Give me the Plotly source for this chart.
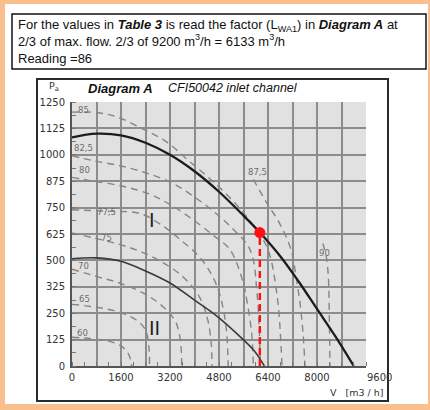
import plotly.graph_objects as go

# ---------------- data ----------------
flow_tick_labels = ["0", "1600", "3200", "4800", "6400", "8000", "9600"]
flow_grid_step = 800
pressure_ticks = [0, 125, 250, 375, 500, 625, 750, 875, 1000, 1125, 1250]
pressure_tick_labels = ["0", "125", "250", "325", "500", "625", "750", "875", "1000", "1125", "1250"]

# solid fan curves
curve_I_flow = [0, 800, 1600, 2400, 3200, 4000, 4800, 5600, 6133, 6800, 7400, 8000, 8600, 9200]
curve_I_pa = [1082, 1100, 1092, 1057, 1000, 922, 825, 712, 632, 520, 400, 270, 140, 0]
curve_II_flow = [0, 800, 1600, 2400, 3200, 4000, 4700, 5540, 5975, 6280]
curve_II_pa = [508, 512, 496, 450, 393, 312, 240, 132, 68, 0]

# dashed iso-sound lines (LWA, dB)
iso60_flow = [0, 600, 1200, 1600, 1850, 1950]
iso60_pa = [136, 130, 118, 95, 55, 0]
iso65_flow = [0, 900, 1600, 2100, 2400, 2510, 2530]
iso65_pa = [292, 276, 252, 218, 170, 90, 0]
iso70_flow = [0, 900, 1550, 2320, 2970, 3380, 3540, 3580]
iso70_pa = [458, 420, 393, 346, 281, 210, 120, 0]
iso75_flow = [0, 690, 1570, 2320, 2970, 3620, 4150, 4430, 4550, 4570]
iso75_pa = [630, 607, 575, 537, 489, 423, 330, 220, 100, 0]
iso775_flow = [0, 1100, 2220, 2980, 3530, 4200, 4700, 5000, 5100]
iso775_pa = [740, 733, 722, 662, 599, 510, 390, 220, 0]
iso80_flow = [0, 690, 1665, 2547, 3200, 3853, 4600, 5159, 5594, 5704, 5867, 5920]
iso80_pa = [893, 875, 851, 813, 765, 703, 620, 551, 393, 314, 155, 0]
iso825_flow = [0, 700, 1570, 2400, 3250, 4000, 4600, 5160, 5812, 6050, 6150]
iso825_pa = [995, 972, 948, 915, 868, 800, 735, 662, 551, 330, 0]
iso85_flow = [0, 800, 1470, 2320, 3100, 3755, 4408, 4930, 5485, 6000, 6400, 6700, 6857]
iso85_pa = [1202, 1200, 1179, 1122, 1060, 979, 898, 830, 745, 650, 551, 330, 0]
iso875_flow = [5920, 6357, 6791, 7150, 7347, 7445, 7543, 7608]
iso875_pa = [884, 773, 672, 551, 394, 299, 157, 0]
iso90_flow = [8190, 8300, 8370, 8402, 8424]
iso90_pa = [580, 520, 424, 234, 0]

iso_names = ["60", "65", "70", "75", "77,5", "80", "82,5", "85", "87,5", "90"]
iso_label_flow = [330, 420, 360, 1140, 1140, 420, 360, 360, 6073, 8260]
iso_label_pa = [157, 318, 475, 608, 727, 927, 1031, 1212, 917, 537]

operating_flow = 6133
operating_pa = 632

# ---------------- layout helpers ----------------
W, H = 430, 410
ML, MT, MR, MB = 72, 102, 64, 44
PW, PH = W - ML - MR, H - MT - MB


def pxx(px):
    return (px - ML) / PW


def pxy(py):
    return (H - MB - py) / PH


ORANGE = "#F9BF8C"
fig = go.Figure()

# shaded operating region (separate lower subplot so grid is drawn above it)
fig.add_trace(go.Scatter(x=curve_I_flow, y=curve_I_pa, mode="lines", line=dict(width=0, shape="spline"),
                         fill="tozeroy", fillcolor="#f3f3f3", xaxis="x", yaxis="y",
                         hoverinfo="skip", showlegend=False))

iso_sets = [(iso60_flow, iso60_pa), (iso65_flow, iso65_pa), (iso70_flow, iso70_pa),
            (iso75_flow, iso75_pa), (iso775_flow, iso775_pa), (iso80_flow, iso80_pa),
            (iso825_flow, iso825_pa), (iso85_flow, iso85_pa), (iso875_flow, iso875_pa),
            (iso90_flow, iso90_pa)]
for name, (q, p) in zip(iso_names, iso_sets):
    fig.add_trace(go.Scatter(x=q, y=p, mode="lines", name=name, xaxis="x2", yaxis="y2",
                             line=dict(color="#858585", width=1.4, dash="7px,5px", shape="spline"),
                             showlegend=False))

fig.add_trace(go.Scatter(x=curve_I_flow, y=curve_I_pa, mode="lines", xaxis="x2", yaxis="y2",
                         line=dict(color="#1c1c1c", width=2.3, shape="spline"), showlegend=False))
fig.add_trace(go.Scatter(x=curve_II_flow, y=curve_II_pa, mode="lines", xaxis="x2", yaxis="y2",
                         line=dict(color="#3a3a3a", width=1.6, shape="spline"), showlegend=False))

# reading line + operating point
fig.add_trace(go.Scatter(x=[operating_flow, operating_flow], y=[0, operating_pa], mode="lines",
                         xaxis="x2", yaxis="y2", line=dict(color="#ff1010", width=2.4, dash="7px,4px"),
                         showlegend=False))
fig.add_trace(go.Scatter(x=[operating_flow], y=[operating_pa], mode="markers", xaxis="x2", yaxis="y2",
                         marker=dict(color="#ff1010", size=11), showlegend=False))

# iso labels
for name, qx, py_ in zip(iso_names, iso_label_flow, iso_label_pa):
    fig.add_annotation(x=qx, y=py_, xref="x2", yref="y2", text=name, showarrow=False,
                       font=dict(family="DejaVu Sans", size=8.5, color="#6e6e6e"))
fig.add_annotation(x=2600, y=690, xref="x2", yref="y2", text="I", showarrow=False,
                   font=dict(family="Liberation Sans", size=20, color="#222"))
fig.add_annotation(x=2680, y=181, xref="x2", yref="y2", text="II", showarrow=False,
                   font=dict(family="Liberation Sans", size=20, color="#222"))

grid_vals = list(range(0, int(flow_tick_labels[-1]) + 1, flow_grid_step))
grid_text = [str(v) if str(v) in flow_tick_labels[:-1] else "" for v in grid_vals]

tick_font = dict(family="DejaVu Sans", size=10, color="#333")
axis_common = dict(showgrid=True, gridcolor="#8c8c8c", gridwidth=2, zeroline=False,
                   showline=True, linecolor="#555", linewidth=2, ticks="", tickfont=tick_font)

fig.update_layout(
    width=W, height=H, margin=dict(l=ML, r=MR, t=MT, b=MB, pad=0),
    paper_bgcolor="white", plot_bgcolor="#e1e1e1",
    xaxis=dict(domain=[0, 1], range=[0, 9600], visible=False, anchor="y"),
    yaxis=dict(domain=[0, 1], range=[0, 1250], visible=False, anchor="x"),
    xaxis2=dict(domain=[0, 1], range=[0, 9600], anchor="y2", tickvals=grid_vals, ticktext=grid_text,
                ticklabelstandoff=1,
                minor=dict(dtick=400, tick0=0, ticks="inside", ticklen=4, tickcolor="#777", showgrid=False),
                **axis_common),
    yaxis2=dict(domain=[0, 1], range=[0, 1250], anchor="x2", tickvals=pressure_ticks,
                ticktext=pressure_tick_labels, ticklabelstandoff=3,
                minor=dict(dtick=62.5, tick0=0, ticks="inside", ticklen=4, tickcolor="#777", showgrid=False),
                **axis_common),
    showlegend=False,
)

# last flow tick label sits offset to the right in the reference
fig.add_annotation(x=int(flow_tick_labels[-1]), y=0, xref="x2", yref="y2", text=flow_tick_labels[-1],
                   showarrow=False, xshift=13, yshift=-11, font=tick_font)

shapes = []
# orange frame
for (x0, y0, x1, y1) in [(0, 0, 5, 410), (428, 0, 430, 410), (0, 0, 430, 4), (0, 404, 430, 410)]:
    shapes.append(dict(type="rect", xref="paper", yref="paper", x0=pxx(x0), x1=pxx(x1),
                       y0=pxy(y1), y1=pxy(y0), fillcolor=ORANGE, line=dict(width=0), layer="above"))
# text box
shapes.append(dict(type="rect", xref="paper", yref="paper", x0=pxx(12), x1=pxx(426), y0=pxy(69), y1=pxy(14),
                   line=dict(color="#111", width=1.5), fillcolor="rgba(0,0,0,0)", layer="above"))
# diagram box
shapes.append(dict(type="rect", xref="paper", yref="paper", x0=pxx(37), x1=pxx(388), y0=pxy(401), y1=pxy(79),
                   line=dict(color="#2a2a2a", width=2), fillcolor="rgba(0,0,0,0)", layer="above"))
fig.update_layout(shapes=shapes)

txt_font = dict(family="Liberation Sans, Arial", size=13, color="#111")
fig.add_annotation(xref="paper", yref="paper", x=pxx(16), y=pxy(15), xanchor="left", yanchor="top",
                   align="left", showarrow=False, font=txt_font,
                   text=("For the values in <b><i>Table 3</i></b> is read the factor (L<sub>WA1</sub>) in "
                         "<b><i>Diagram A</i></b> at<br>2/3 of max. flow. 2/3 of 9200 m<sup>3</sup>/h = "
                         "6133 m<sup>3</sup>/h<br>Reading =86"))
fig.add_annotation(xref="paper", yref="paper", x=pxx(86), y=pxy(88), xanchor="left", yanchor="middle",
                   showarrow=False, font=dict(family="Liberation Sans, Arial", size=13, color="#111"),
                   text="<b><i>Diagram A</i></b>")
fig.add_annotation(xref="paper", yref="paper", x=pxx(166), y=pxy(88), xanchor="left", yanchor="middle",
                   showarrow=False, font=dict(family="Liberation Sans, Arial", size=12.5, color="#111"),
                   text="<i>CFI50042 inlet channel</i>")
fig.add_annotation(xref="paper", yref="paper", x=pxx(54), y=pxy(86), xanchor="center", yanchor="middle",
                   showarrow=False, font=dict(family="DejaVu Sans", size=9.5, color="#333"),
                   text="P<sub>a</sub>")
fig.add_annotation(xref="paper", yref="paper", x=pxx(386), y=pxy(392), xanchor="right", yanchor="middle",
                   showarrow=False, font=dict(family="DejaVu Sans", size=9.5, color="#333"),
                   text="V   [m3 / h]")

# remove the browser's default page margin so the 430x410 figure fills the window exactly
fig.write_html("out.html", config={"displayModeBar": False},
               post_script="document.body.style.margin='0';document.body.style.overflow='hidden';")
